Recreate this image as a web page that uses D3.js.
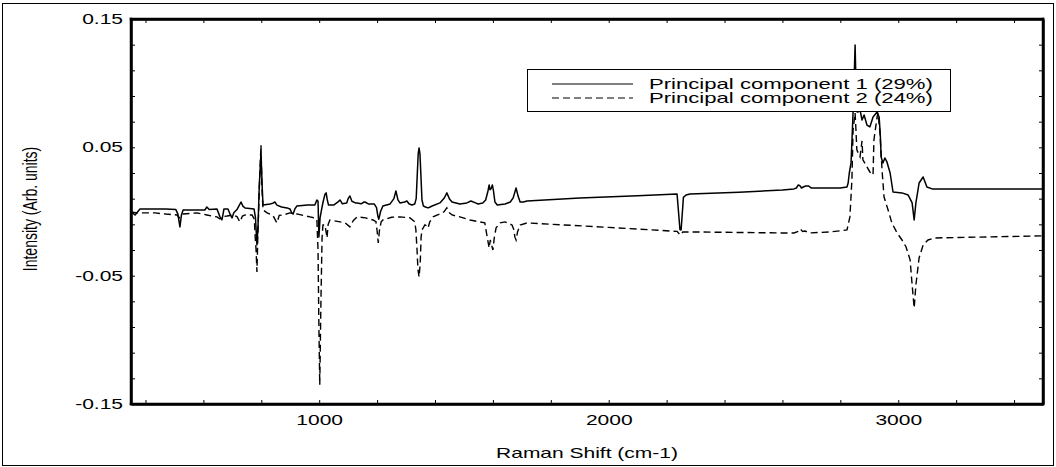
<!DOCTYPE html>
<html>
<head>
<meta charset="utf-8">
<script src="https://cdn.jsdelivr.net/npm/d3@7/dist/d3.min.js"></script>
<style>
  html, body { margin: 0; padding: 0; background: #fff; }
  svg { display: block; }
  text { font-family: "Liberation Sans", Arial, Helvetica, sans-serif; fill: #000; }
</style>
</head>
<body>
<svg id="chart" width="1056" height="467"></svg>
<script>
// ---- data (Raman shift cm-1, intensity arb. units) ----
const seriesNames = ["Principal component 1 (29%)", "Principal component 2 (24%)"];

const pc1 = [
  [350,-0.0004],[364,-0.0027],[381,0.002],[470,0.002],[505,0.0015],[512,-0.002],[519,-0.012],[524,-0.003],
  [530,0.0012],[605,0.0012],[612,0.0035],[620,0.0015],[647,0.002],[657,-0.004],[664,-0.0066],[668,-0.002],
  [671,0.002],[685,0.002],[692,-0.002],[699,-0.005],[705,-0.001],[716,0.0015],[722,0.004],[730,0.0074],
  [737,0.004],[744,0.0028],[775,0.002],[780,-0.005],[785,-0.026],[789,-0.01],[793,0.02],[799,0.046],
  [803,0.02],[806,0.0051],[830,0.0059],[840,0.0065],[847,0.0074],[854,0.005],[870,0.0035],[889,0.0028],
  [899,0.002],[905,-0.001],[910,-0.002],[916,0.002],[923,0.0043],[960,0.0051],[985,0.0051],[992,0.009],
  [996,0.008],[999,-0.0198],[1003,-0.005],[1008,0.0012],[1014,0.008],[1020,0.0135],[1024,0.0145],[1028,0.009],
  [1032,0.0051],[1050,0.005],[1065,0.0075],[1072,0.009],[1080,0.006],[1095,0.0067],[1100,0.01],[1106,0.0121],
  [1113,0.008],[1125,0.0067],[1131,0.0067],[1145,0.006],[1155,0.0074],[1158,0.0074],[1170,0.0059],[1190,0.0059],
  [1198,0.003],[1203,-0.004],[1206,-0.006],[1212,0.0],[1220,0.0043],[1245,0.0059],[1258,0.01],[1265,0.016],
  [1272,0.009],[1279,0.0067],[1295,0.0074],[1303,0.0082],[1310,0.006],[1320,0.0051],[1330,0.0059],[1335,0.01],
  [1339,0.03],[1342,0.045],[1345,0.0495],[1348,0.045],[1351,0.03],[1355,0.009],[1360,0.0043],[1367,0.0035],
  [1376,0.0028],[1383,0.0035],[1390,0.0043],[1417,0.0067],[1432,0.0105],[1441,0.0145],[1450,0.0098],[1459,0.0074],
  [1486,0.0059],[1510,0.0067],[1524,0.0082],[1540,0.0067],[1549,0.0059],[1565,0.0067],[1575,0.009],[1583,0.016],
  [1587,0.0207],[1590,0.017],[1594,0.018],[1598,0.0207],[1602,0.016],[1607,0.0074],[1615,0.0051],[1642,0.0059],
  [1660,0.0074],[1670,0.0106],[1680,0.0183],[1687,0.012],[1694,0.0074],[1705,0.0074],[1718,0.0082],[1900,0.0105],
  [2100,0.0123],[2236,0.0137],[2241,0.0],[2246,-0.014],[2250,-0.0144],[2254,-0.002],[2258,0.011],[2267,0.0129],
  [2281,0.0137],[2450,0.015],[2600,0.0168],[2640,0.0176],[2648,0.0183],[2655,0.0207],[2661,0.0199],[2666,0.0183],
  [2672,0.0191],[2680,0.0199],[2690,0.0199],[2700,0.0183],[2765,0.0183],[2799,0.0183],[2823,0.0191],[2827,0.0222],
  [2831,0.030],[2837,0.0378],[2841,0.060],[2844,0.0775],[2848,0.105],[2851,0.1297],[2854,0.10],[2858,0.0775],
  [2861,0.0775],[2868,0.0791],[2875,0.0713],[2882,0.0752],[2892,0.0674],[2902,0.0659],[2913,0.0737],[2927,0.0775],
  [2934,0.0737],[2938,0.060],[2941,0.0425],[2947,0.0378],[2954,0.0417],[2961,0.0386],[2972,0.030],[2982,0.0152],
  [3013,0.0145],[3034,0.0129],[3048,0.0067],[3055,-0.0066],[3061,0.0067],[3072,0.0222],[3086,0.0269],[3099,0.0191],
  [3117,0.0176],[3500,0.0176]
];

const pc2 = [
  [350,-0.0004],[371,-0.0011],[391,-0.0011],[433,-0.0011],[470,-0.002],[509,-0.0027],[516,-0.005],[523,-0.0027],
  [530,-0.0019],[578,-0.0011],[612,-0.0027],[640,-0.004],[647,-0.0042],[657,-0.0058],[665,-0.004],[682,-0.0035],
  [702,-0.0027],[716,-0.004],[726,-0.0081],[735,-0.0035],[744,-0.0027],[768,-0.0027],[776,-0.006],[779,-0.02],
  [782,-0.03],[785,-0.0471],[788,-0.02],[792,0.01],[796,0.035],[799,0.0518],[802,0.02],[806,0.0012],
  [820,-0.0011],[840,-0.003],[854,-0.0089],[862,-0.003],[875,-0.0027],[899,-0.0011],[923,-0.0019],[968,-0.0042],
  [985,-0.005],[992,-0.0066],[996,-0.03],[999,-0.09],[1002,-0.1351],[1006,-0.07],[1010,-0.02],[1013,-0.0105],
  [1020,-0.0105],[1024,-0.016],[1027,-0.0206],[1031,-0.01],[1037,-0.0066],[1072,-0.0081],[1090,-0.009],[1106,-0.012],
  [1118,-0.007],[1131,-0.0042],[1160,-0.005],[1186,-0.0066],[1196,-0.008],[1200,-0.015],[1204,-0.0245],[1208,-0.015],
  [1214,-0.008],[1220,-0.0066],[1250,-0.0045],[1279,-0.0042],[1314,-0.005],[1330,-0.008],[1334,-0.0144],[1338,-0.03],
  [1341,-0.045],[1345,-0.051],[1349,-0.04],[1352,-0.02],[1355,-0.0144],[1365,-0.0105],[1370,-0.011],[1376,-0.0128],
  [1382,-0.008],[1393,-0.0042],[1417,-0.0019],[1432,0.0],[1441,0.0028],[1450,-0.001],[1459,-0.0027],[1486,-0.0042],
  [1521,-0.0066],[1555,-0.0081],[1572,-0.0089],[1576,-0.0144],[1582,-0.022],[1587,-0.0284],[1591,-0.0222],[1594,-0.025],
  [1600,-0.03],[1605,-0.02],[1611,-0.0128],[1625,-0.0089],[1642,-0.0081],[1666,-0.0105],[1672,-0.014],[1676,-0.02],
  [1680,-0.0222],[1685,-0.016],[1694,-0.0105],[1718,-0.0089],[2000,-0.0124],[2236,-0.0155],[2247,-0.0183],[2256,-0.016],
  [2281,-0.0159],[2592,-0.0167],[2640,-0.0167],[2655,-0.0155],[2661,-0.0136],[2670,-0.0155],[2678,-0.0152],[2695,-0.0167],
  [2765,-0.0159],[2823,-0.0144],[2833,-0.0042],[2840,0.0246],[2844,0.0635],[2851,0.0768],[2854,0.0635],[2857,0.048],
  [2868,0.0425],[2875,0.055],[2878,0.0402],[2892,0.0347],[2902,0.0308],[2913,0.0285],[2916,0.0557],[2927,0.0737],
  [2930,0.0768],[2937,0.0612],[2944,0.0324],[2951,0.0113],[2965,0.0012],[2978,-0.0089],[2996,-0.0167],[3013,-0.0222],
  [3027,-0.0276],[3041,-0.0377],[3048,-0.0572],[3055,-0.0751],[3061,-0.0572],[3072,-0.0362],[3086,-0.0261],[3103,-0.0222],
  [3127,-0.0206],[3500,-0.019]
];

const xTickVals = [400,600,800,1000,1200,1400,1600,1800,2000,2200,2400,2600,2800,3000,3200,3400];
const xLabelVals = [1000, 2000, 3000];
const yTickVals = [-0.15,-0.13,-0.11,-0.09,-0.07,-0.05,-0.03,-0.01,0.01,0.03,0.05,0.07,0.09,0.11,0.13,0.15];
const yLabelVals = [-0.15, -0.05, 0.05, 0.15];
const xTitle = "Raman Shift (cm-1)";
const yTitle = "Intensity (Arb. units)";

// ---- layout ----
const L = 131, R = 1043, T = 19, B = 404;
const SX = 1.5; // horizontal text stretch of the original raster

const svg = d3.select("#chart");
svg.append("rect").attr("x", 2.5).attr("y", 3.5).attr("width", 1051).attr("height", 462)
  .attr("fill", "none").attr("stroke", "#000").attr("stroke-width", 1);

const x = d3.scaleLinear().domain([350, 3500]).range([L, R]);
const y = d3.scaleLinear().domain([-0.15, 0.15]).range([B, T]);

const line = d3.line().x(d => x(d[0])).y(d => y(d[1]));

svg.append("path").datum(pc2).attr("d", line)
  .attr("fill", "none").attr("stroke", "#000").attr("stroke-width", 1.4)
  .attr("stroke-dasharray", "7,4");
svg.append("path").datum(pc1).attr("d", line)
  .attr("fill", "none").attr("stroke", "#000").attr("stroke-width", 1.5)
  .attr("stroke-linejoin", "round");

const near = (arr, v) => arr.some(a => Math.abs(a - v) < 1e-9);

function styleAxis(g) {
  g.select(".domain").attr("stroke", "#000").attr("stroke-width", 2.5);
  g.selectAll(".tick line").attr("stroke", "#000").attr("stroke-width", 1);
  g.attr("font-family", null).attr("font-size", null);
  g.selectAll("text").attr("font-size", 14).style("font-family", '"Liberation Sans", Arial, sans-serif');
}

// left
const gl = svg.append("g").attr("transform", `translate(${L},0)`)
  .call(d3.axisLeft(y).tickValues(yTickVals).tickSizeInner(-4).tickSizeOuter(0).tickPadding(8)
    .tickFormat(d => near(yLabelVals, d) ? d.toFixed(2) : ""));
styleAxis(gl);
gl.selectAll(".tick text").attr("x", -8 / SX).attr("transform", `scale(${SX},1)`);

// right
const gr = svg.append("g").attr("transform", `translate(${R},0)`)
  .call(d3.axisRight(y).tickValues(yTickVals).tickSizeInner(-4).tickSizeOuter(0).tickFormat(""));
styleAxis(gr);

// bottom
const gb = svg.append("g").attr("transform", `translate(0,${B})`)
  .call(d3.axisBottom(x).tickValues(xTickVals).tickSizeInner(-4).tickSizeOuter(0).tickPadding(11)
    .tickFormat(d => xLabelVals.includes(d) ? String(d) : ""));
styleAxis(gb);
gb.selectAll(".tick text").attr("transform", `scale(${SX},1)`);

// top
const gt = svg.append("g").attr("transform", `translate(0,${T})`)
  .call(d3.axisTop(x).tickValues(xTickVals).tickSizeInner(-4).tickSizeOuter(0).tickFormat(""));
styleAxis(gt);

// plot frame as four lines from the scales' ranges
const [x0, x1] = x.range();
const [y0, y1] = y.range();
const frame = svg.append("g").attr("stroke", "#000").attr("stroke-width", 2.5).attr("stroke-linecap", "square");
[[x0, y1, x1, y1], [x1, y1, x1, y0], [x0, y0, x1, y0], [x0, y1, x0, y0]].forEach(s => {
  frame.append("line").attr("x1", s[0]).attr("y1", s[1]).attr("x2", s[2]).attr("y2", s[3]);
});

// titles
svg.append("text").attr("transform", `translate(${(L + R) / 2},458) scale(${SX},1)`)
  .attr("text-anchor", "middle").attr("font-size", 14).text(xTitle);
svg.append("text").attr("transform", `translate(37,209) scale(${SX},1) rotate(-90)`)
  .attr("text-anchor", "middle").attr("font-size", 14).text(yTitle);

// legend
const lg = svg.append("g");
lg.append("rect").attr("x", 527.5).attr("y", 69.5).attr("width", 423).attr("height", 42)
  .attr("fill", "#fff").attr("stroke", "#000").attr("stroke-width", 1);
const rows = [84, 98];
const dashes = [null, "7,4"];
seriesNames.forEach((name, i) => {
  lg.append("line").attr("x1", 552).attr("x2", 633).attr("y1", rows[i]).attr("y2", rows[i])
    .attr("stroke", "#000").attr("stroke-width", 1.2).attr("stroke-dasharray", dashes[i]);
  lg.append("text").attr("transform", `translate(649,${rows[i] + 5}) scale(1.58,1)`)
    .attr("font-size", 14).text(name);
});
</script>
</body>
</html>
